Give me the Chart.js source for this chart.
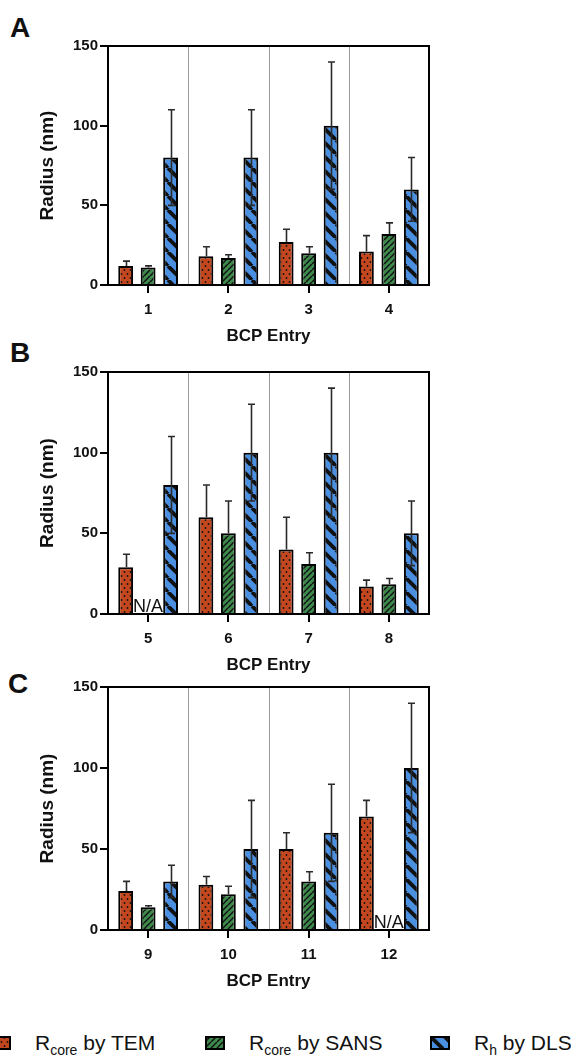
<!DOCTYPE html>
<html>
<head>
<meta charset="utf-8">
<script src="https://cdn.jsdelivr.net/npm/chart.js@4.4.1/dist/chart.umd.min.js"></script>
<style>
  body { margin: 0; background: #fff; width: 571px; height: 1057px; position: relative; overflow: hidden;
         font-family: "Liberation Sans", Arial, sans-serif; color: #111; }
  canvas.panel { position: absolute; left: 0; }
  .letter { position: absolute; font-weight: bold; font-size: 28px; line-height: 27px; }
  .leg { position: absolute; top: 1031px; display: flex; align-items: center; font-size: 21px; line-height: 24px; white-space: nowrap; }
  .leg canvas { margin-right: 24px; }
  .leg sub { font-size: 14px; line-height: 0; vertical-align: -5px; }
</style>
</head>
<body>
<div class="letter" style="left:10px;top:14px">A</div>
<div class="letter" style="left:10px;top:339px">B</div>
<div class="letter" style="left:8px;top:670px">C</div>
<canvas id="panelA" class="panel" width="571" height="380" style="top:0px"></canvas>
<canvas id="panelB" class="panel" width="571" height="380" style="top:326px"></canvas>
<canvas id="panelC" class="panel" width="571" height="380" style="top:641px"></canvas>
<div id="legend"></div>
<script>
// ---- data ----
const catsA = ['1', '2', '3', '4'];
const catsB = ['5', '6', '7', '8'];
const catsC = ['9', '10', '11', '12'];

const temA = [12, 18, 27, 21];    const temErrA = [3, 6, 8, 10];
const sansA = [11, 17, 20, 32];   const sansErrA = [1, 2, 4, 7];
const dlsA = [80, 80, 100, 60];   const dlsErrA = [30, 30, 40, 20];

const temB = [29, 60, 40, 17];      const temErrB = [8, 20, 20, 4];
const sansB = [null, 50, 31, 18.5]; const sansErrB = [null, 20, 7, 3.5];
const dlsB = [80, 100, 100, 50];    const dlsErrB = [30, 30, 40, 20];

const temC = [24, 28, 50, 70];      const temErrC = [6, 5, 10, 10];
const sansC = [14, 22, 30, null];   const sansErrC = [1, 5, 6, null];
const dlsC = [30, 50, 60, 100];     const dlsErrC = [10, 30, 30, 40];

const yTicks = [0, 50, 100, 150];
const legendMain = ['R', 'R', 'R'];
const legendSub = ['core', 'core', 'h'];
const legendRest = [' by TEM', ' by SANS', ' by DLS'];

Chart.defaults.font.family = '"Liberation Sans", Arial, sans-serif';
Chart.defaults.color = '#111';

// fill patterns
function makePattern(kind) {
  const t = document.createElement('canvas');
  const g = t.getContext('2d');
  if (kind === 'dots') {
    t.width = 6; t.height = 8;
    g.fillStyle = '#c2461e'; g.fillRect(0, 0, 6, 8);
    g.fillStyle = '#111';
    [[1.5, 2], [4.5, 6]].forEach(([x, y]) => { g.beginPath(); g.arc(x, y, 0.9, 0, Math.PI * 2); g.fill(); });
  } else if (kind === 'hatch') {
    const s = 6; t.width = s; t.height = s;
    g.fillStyle = '#3d8a4c'; g.fillRect(0, 0, s, s);
    g.strokeStyle = '#111'; g.lineWidth = 1.5;
    for (const o of [-s, 0, s]) { g.beginPath(); g.moveTo(o, s); g.lineTo(o + s, 0); g.stroke(); }
  } else {
    const s = 14; t.width = s; t.height = s;
    g.fillStyle = '#4a8fe0'; g.fillRect(0, 0, s, s);
    g.strokeStyle = '#111'; g.lineWidth = 3.8;
    for (const o of [-s, 0, s]) { g.beginPath(); g.moveTo(o, 0); g.lineTo(o + s, s); g.stroke(); }
  }
  return g.createPattern(t, 'repeat');
}
const fills = [makePattern('dots'), makePattern('hatch'), makePattern('stripes')];

// separators, error bars, N/A labels, frame
const extras = {
  id: 'extras',
  beforeDatasetsDraw(chart) {
    const { ctx, chartArea: a, scales: { x } } = chart;
    ctx.save();
    ctx.strokeStyle = '#9a9a9a'; ctx.lineWidth = 1;
    for (let i = 0; i < chart.data.labels.length - 1; i++) {
      const xx = Math.round((x.getPixelForValue(i) + x.getPixelForValue(i + 1)) / 2) + 0.5;
      ctx.beginPath(); ctx.moveTo(xx, a.top); ctx.lineTo(xx, a.bottom); ctx.stroke();
    }
    ctx.restore();
  },
  afterDatasetsDraw(chart) {
    const { ctx, chartArea: a, scales: { y } } = chart;
    ctx.save();
    ctx.strokeStyle = '#2a2a2a'; ctx.lineWidth = 1.6;
    chart.data.datasets.forEach((ds, di) => {
      const meta = chart.getDatasetMeta(di);
      meta.data.forEach((bar, i) => {
        const v = ds.data[i], e = ds.errors[i];
        if (v == null || e == null) return;
        const x = Math.round(bar.x) + 0.5;
        const yTop = y.getPixelForValue(v + e);
        const yLow = ds.showLower ? y.getPixelForValue(v - e) : y.getPixelForValue(v);
        ctx.beginPath();
        ctx.moveTo(x, yLow); ctx.lineTo(x, yTop);
        ctx.moveTo(x - 3.5, yTop); ctx.lineTo(x + 3.5, yTop);
        if (ds.showLower) { ctx.moveTo(x - 3.5, yLow); ctx.lineTo(x + 3.5, yLow); }
        ctx.stroke();
      });
    });
    // N/A where SANS has no value
    const sans = chart.data.datasets[1];
    ctx.fillStyle = '#111';
    ctx.font = '18px "Liberation Sans", Arial, sans-serif';
    ctx.textAlign = 'center'; ctx.textBaseline = 'alphabetic';
    sans.data.forEach((v, i) => {
      if (v != null) return;
      const x0 = chart.getDatasetMeta(0).data[i].x, x2 = chart.getDatasetMeta(2).data[i].x;
      ctx.fillText('N/A', (x0 + x2) / 2, a.bottom - 2);
    });
    ctx.strokeStyle = '#000'; ctx.lineWidth = 2;
    ctx.strokeRect(a.left, a.top, a.right - a.left, a.bottom - a.top);
    ctx.restore();
  }
};

function makePanel(id, cats, tem, temErr, sans, sansErr, dls, dlsErr, plotH) {
  const padTop = 46, canvasH = 380, titleGap = 51;
  new Chart(document.getElementById(id), {
    type: 'bar',
    data: {
      labels: cats,
      datasets: [
        { label: 'Rcore by TEM', data: tem, errors: temErr, backgroundColor: fills[0] },
        { label: 'Rcore by SANS', data: sans, errors: sansErr, backgroundColor: fills[1] },
        { label: 'Rh by DLS', data: dls, errors: dlsErr, backgroundColor: fills[2], showLower: true }
      ]
    },
    options: {
      responsive: false,
      animation: false,
      layout: { padding: { top: padTop, right: 142, left: 0, bottom: 0 } },
      plugins: { legend: { display: false }, tooltip: { enabled: false } },
      datasets: { bar: { categoryPercentage: 0.84, barPercentage: 0.66, borderColor: '#000', borderWidth: 2 } },
      scales: {
        x: {
          grid: { offset: false, drawOnChartArea: false, drawTicks: true, tickLength: 8, color: '#000', lineWidth: 2 },
          border: { display: false },
          ticks: { font: { size: 15, weight: 'bold' }, padding: 8, maxRotation: 0 },
          title: { display: true, text: 'BCP Entry', font: { size: 17, weight: 'bold' },
                   padding: { top: 0, bottom: canvasH - (padTop + plotH + titleGap) - 10.2 } },
          afterFit(s) { s.height = canvasH - padTop - plotH; }
        },
        y: {
          min: 0, max: 150,
          afterBuildTicks(s) { s.ticks = yTicks.map(v => ({ value: v })); },
          grid: { drawOnChartArea: false, drawTicks: true, tickLength: 8, color: '#000', lineWidth: 2 },
          border: { display: false },
          ticks: { font: { size: 15, weight: 'bold' }, padding: 2 },
          title: { display: true, text: 'Radius (nm)', font: { size: 19, weight: 'bold' }, padding: { top: 36, bottom: 0 } },
          afterFit(s) { s.width = 108; }
        }
      }
    },
    plugins: [extras]
  });
}

makePanel('panelA', catsA, temA, temErrA, sansA, sansErrA, dlsA, dlsErrA, 239);
makePanel('panelB', catsB, temB, temErrB, sansB, sansErrB, dlsB, dlsErrB, 242);
makePanel('panelC', catsC, temC, temErrC, sansC, sansErrC, dlsC, dlsErrC, 243);

// legend
const legendLeft = [-9, 205, 430];
const legend = document.getElementById('legend');
fills.forEach((f, i) => {
  const item = document.createElement('div');
  item.className = 'leg';
  item.style.left = legendLeft[i] + 'px';
  const sw = document.createElement('canvas');
  sw.width = 20; sw.height = 14;
  const g = sw.getContext('2d');
  g.fillStyle = f; g.fillRect(0, 0, 20, 14);
  g.strokeStyle = '#000'; g.lineWidth = 2; g.strokeRect(1, 1, 18, 12);
  item.appendChild(sw);
  const txt = document.createElement('span');
  txt.innerHTML = legendMain[i] + '<sub>' + legendSub[i] + '</sub>' + legendRest[i];
  item.appendChild(txt);
  legend.appendChild(item);
});
</script>
</body>
</html>
